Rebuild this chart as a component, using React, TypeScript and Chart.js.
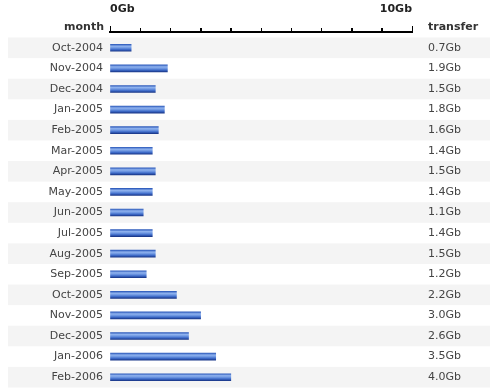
import React, { useEffect, useRef } from "react";
import { Chart, registerables } from "chart.js";

Chart.register(...registerables);

const months: string[] = [
  "Oct-2004", "Nov-2004", "Dec-2004", "Jan-2005", "Feb-2005", "Mar-2005",
  "Apr-2005", "May-2005", "Jun-2005", "Jul-2005", "Aug-2005", "Sep-2005",
  "Oct-2005", "Nov-2005", "Dec-2005", "Jan-2006", "Feb-2006",
];
const transferGb: number[] = [
  0.7, 1.9, 1.5, 1.8, 1.6, 1.4, 1.5, 1.4, 1.1, 1.4, 1.5, 1.2, 2.2, 3.0, 2.6, 3.5, 4.0,
];
const axisMin = 0;
const axisMax = 10;
const axisStep = 1;
const axisUnit = "Gb";
const leftHeader = "month";
const rightHeader = "transfer";

const FONT = "'DejaVu Sans', Verdana, sans-serif";
const ROW_START = -0.5 - 5.5 / 20.59;
const ROW_END = months.length - 0.5;

const fixRows = (s: any) => {
  s.ticks = months.map((_, i) => ({ value: i }));
  s.min = ROW_START;
  s.max = ROW_END;
};

const rowsPlugin = {
  id: "rows",
  beforeDraw(chart: any) {
    const ys = chart.scales.y;
    const ctx = chart.ctx;
    ctx.save();
    ctx.fillStyle = "#f4f4f4";
    months.forEach((_, i) => {
      if (i % 2 !== 0) return;
      const t = ys.getPixelForValue(i - 0.5);
      const b = ys.getPixelForValue(i + 0.5);
      ctx.fillRect(8, t, 482, b - t);
    });
    ctx.restore();
  },
  afterDraw(chart: any) {
    const ctx = chart.ctx;
    const area = chart.chartArea;
    const xs = chart.scales.x;
    ctx.save();
    // axis rule and tick marks, placed from the x scale
    ctx.fillStyle = "#000";
    const x0 = Math.round(xs.getPixelForValue(axisMin));
    const x1 = Math.round(xs.getPixelForValue(axisMax));
    ctx.fillRect(x0, area.top - 1, x1 - x0 + 1, 2);
    for (let v = axisMin; v <= axisMax; v += axisStep) {
      const px = Math.round(xs.getPixelForValue(v));
      const h = v === axisMin || v === axisMax ? 6 : 4;
      ctx.fillRect(px, area.top - h, 1, h);
    }
    // column headers
    ctx.font = "bold 11px " + FONT;
    ctx.fillStyle = "#333";
    ctx.textBaseline = "middle";
    ctx.textAlign = "right";
    ctx.fillText(leftHeader, area.left - 6, area.top - 5);
    ctx.textAlign = "left";
    ctx.fillText(rightHeader, area.right + 16, area.top - 5);
    ctx.restore();
  },
};

export default function App() {
  const ref = useRef<HTMLCanvasElement | null>(null);
  useEffect(() => {
    if (!ref.current) return;
    Chart.defaults.font.family = FONT;
    const chart = new Chart(ref.current, {
      type: "bar",
      data: {
        datasets: [
          {
            data: transferGb.map((v, i) => ({ x: v, y: i })),
            yAxisID: "y",
            xAxisID: "x",
            barThickness: 7,
            borderWidth: 0,
            backgroundColor: (c: any) => {
              const chart = c.chart;
              const ys = chart.scales && chart.scales.y;
              if (!ys || c.dataIndex === undefined) return "#4a78d4";
              const y = ys.getPixelForValue(c.dataIndex);
              if (!isFinite(y)) return "#4a78d4";
              const g = chart.ctx.createLinearGradient(0, y - 3.5, 0, y + 3.5);
              g.addColorStop(0, "#2f5cbc");
              g.addColorStop(0.28, "#8fb2ee");
              g.addColorStop(0.5, "#6f98e2");
              g.addColorStop(0.75, "#3d6ac8");
              g.addColorStop(1, "#1a388a");
              return g;
            },
          } as any,
        ],
      },
      options: {
        indexAxis: "y",
        animation: false,
        responsive: false,
        layout: { padding: { left: 0, right: 0, top: 0, bottom: 1.5 } },
        plugins: { legend: { display: false }, tooltip: { enabled: false } },
        scales: {
          x: {
            type: "linear",
            position: "top",
            min: axisMin,
            max: axisMax,
            offset: false,
            grid: { drawOnChartArea: false, drawTicks: true, tickLength: 4, color: "#000000", lineWidth: 1 },
            border: { display: true, color: "#000000", width: 2 },
            ticks: {
              stepSize: axisStep,
              autoSkip: false,
              maxRotation: 0,
              align: "inner",
              padding: 12,
              color: "#222",
              font: { size: 11, weight: "bold" },
              callback: (v: any) => (v === axisMin || v === axisMax ? v + axisUnit : ""),
            },
            afterFit: (s: any) => { s.height = 32; s.paddingLeft = 0; s.paddingRight = 0; },
          },
          y: {
            type: "linear",
            position: "left",
            reverse: true,
            bounds: "data",
            offset: false,
            min: ROW_START,
            max: ROW_END,
            grid: { display: false, drawTicks: false, offset: false },
            border: { display: false },
            afterBuildTicks: fixRows,
            ticks: {
              autoSkip: false,
              padding: 7,
              color: "#444",
              font: { size: 11 },
              callback: (v: any) => months[v] ?? "",
            },
            afterFit: (s: any) => { s.width = 110; s.paddingTop = 0; s.paddingBottom = 0; },
          },
          y2: {
            type: "linear",
            position: "right",
            reverse: true,
            bounds: "data",
            offset: false,
            min: ROW_START,
            max: ROW_END,
            grid: { display: false, drawTicks: false, offset: false },
            border: { display: false },
            afterBuildTicks: fixRows,
            ticks: {
              autoSkip: false,
              padding: 16,
              color: "#444",
              font: { size: 11 },
              callback: (v: any) => (transferGb[v] !== undefined ? transferGb[v].toFixed(1) + axisUnit : ""),
            },
            afterFit: (s: any) => { s.width = 88; s.paddingTop = 0; s.paddingBottom = 0; },
          },
        },
      } as any,
      plugins: [rowsPlugin],
    });
    return () => chart.destroy();
  }, []);
  return (
    <div style={{ position: "absolute", left: 0, top: 0, width: 500, height: 389, background: "#fff" }}>
      <canvas ref={ref} width={500} height={389} />
    </div>
  );
}
